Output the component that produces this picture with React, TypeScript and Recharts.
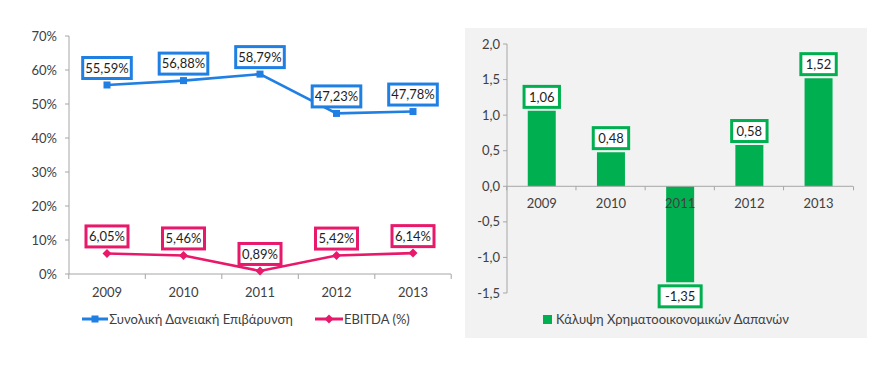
import React from 'react';
import { LineChart, Line, XAxis, YAxis, BarChart, Bar, LabelList, Legend, ReferenceLine } from 'recharts';

const years = ['2009', '2010', '2011', '2012', '2013'];
const debtBurden = [55.59, 56.88, 58.79, 47.23, 47.78];
const ebitdaMargin = [6.05, 5.46, 0.89, 5.42, 6.14];
const coverage = [1.06, 0.48, -1.35, 0.58, 1.52];
const pctTicks = [0, 10, 20, 30, 40, 50, 60, 70];
const coverageTicks = [-1.5, -1, -0.5, 0, 0.5, 1, 1.5, 2];
const debtName = 'Συνολική Δανειακή Επιβάρυνση';
const ebitdaName = 'EBITDA (%)';
const coverName = 'Κάλυψη Χρηματοοικονομικών Δαπανών';

const lineData = years.map((y, i) => ({ year: y, debt: debtBurden[i], ebitda: ebitdaMargin[i] }));
const barData = years.map((y, i) => ({ year: y, cover: coverage[i] }));

const BLUE = '#1f7fe3';
const PINK = '#e8196b';
const GREEN = '#00b050';
const AXIS = '#a6a6a6';
const TEXT = '#404040';
const LABEL = '#1e1e1e';
const FONT = 'Lato, "Open Sans", sans-serif';

const fmtComma = (v: number, d: number) => v.toFixed(d).replace('.', ',');

const boxW = (t: string) => t.length * 6.6 + 9;

const LineBoxLabel = (color: string) => (props: any) => {
  const { x, y, value } = props;
  if (x == null || y == null) return null;
  const text = fmtComma(Number(value), 2) + '%';
  const w = boxW(text);
  const h = 21;
  const cy = y - 17;
  return (
    <g>
      <rect x={x - w / 2} y={cy - h / 2} width={w} height={h} fill="#fff" stroke={color} strokeWidth={3} />
      <text x={x} y={cy} dy="0.36em" textAnchor="middle" fontSize={13} fill={LABEL} fontFamily={FONT}>{text}</text>
    </g>
  );
};

const BarBoxLabel = (props: any) => {
  const { x, y, width, height, value } = props;
  const v = Number(value);
  const top = Math.min(y, y + height);
  const bottom = Math.max(y, y + height);
  const cx = x + width / 2;
  const cy = v >= 0 ? top - 14 : bottom + 14;
  const text = fmtComma(v, 2);
  const w = boxW(text);
  const h = 21;
  return (
    <g>
      <rect x={cx - w / 2} y={cy - h / 2} width={w} height={h} fill="#fff" stroke={GREEN} strokeWidth={3} />
      <text x={cx} y={cy} dy="0.36em" textAnchor="middle" fontSize={13} fill={LABEL} fontFamily={FONT}>{text}</text>
    </g>
  );
};

const barGapFraction = 0.3;

const BarCategoryLabel = (props: any) => {
  const { x, y, width, height, value, index } = props;
  const v = coverage[index];
  const zero = v >= 0 ? Math.max(y, y + height) : Math.min(y, y + height);
  const cx = x + width / 2;
  const band = width / (1 - 2 * barGapFraction);
  const left = cx - band / 2;
  const right = cx + band / 2;
  return (
    <g>
      <line x1={left} y1={zero} x2={left} y2={zero + 4} stroke={AXIS} />
      {index === years.length - 1 && <line x1={right} y1={zero} x2={right} y2={zero + 4} stroke={AXIS} />}
      <text x={cx} y={zero + 17} dy="0.36em" textAnchor="middle" fontSize={13} fill={TEXT} fontFamily={FONT}>{value}</text>
    </g>
  );
};

const LineXTick = (props: any) => {
  const { x, y, payload, tickSize, tickMargin, index, visibleTicksCount, width } = props;
  const axisY = y - (tickSize ?? 5) - (tickMargin ?? 9);
  const count = visibleTicksCount || years.length;
  const half = payload && payload.offset != null && payload.offset > 0 ? payload.offset : width / (2 * count);
  return (
    <g>
      <line x1={x - half} y1={axisY} x2={x - half} y2={axisY + 5} stroke={AXIS} />
      {index === count - 1 && <line x1={x + half} y1={axisY} x2={x + half} y2={axisY + 5} stroke={AXIS} />}
      <text x={x} y={y} dy="0.71em" textAnchor="middle" fontSize={13} fill={TEXT} fontFamily={FONT}>{payload.value}</text>
    </g>
  );
};

const SquareDot = (props: any) => {
  const { cx, cy } = props;
  if (cx == null || cy == null) return null;
  return <rect x={cx - 3.5} y={cy - 3.5} width={7} height={7} fill={BLUE} />;
};

const DiamondDot = (props: any) => {
  const { cx, cy } = props;
  if (cx == null || cy == null) return null;
  return <path d={`M${cx},${cy - 4.5}L${cx + 4.5},${cy}L${cx},${cy + 4.5}L${cx - 4.5},${cy}Z`} fill={PINK} />;
};

const LineLegend = () => (
  <div style={{ display: 'flex', justifyContent: 'center', alignItems: 'center', fontSize: 13, color: TEXT, fontFamily: FONT, lineHeight: '16px' }}>
    <span style={{ display: 'flex', alignItems: 'center' }}>
      <svg width={26} height={10} style={{ marginRight: 1 }}>
        <line x1={0} y1={5} x2={26} y2={5} stroke={BLUE} strokeWidth={3} />
        <rect x={9.5} y={1.5} width={7} height={7} fill={BLUE} />
      </svg>
      {debtName}
    </span>
    <span style={{ display: 'flex', alignItems: 'center', marginLeft: 22 }}>
      <svg width={28} height={10} style={{ marginRight: 1 }}>
        <line x1={0} y1={5} x2={28} y2={5} stroke={PINK} strokeWidth={3} />
        <path d="M14,0.5L18.5,5L14,9.5L9.5,5Z" fill={PINK} />
      </svg>
      {ebitdaName}
    </span>
  </div>
);

const BarLegend = () => (
  <div style={{ display: 'flex', justifyContent: 'center', alignItems: 'center', fontSize: 13, color: TEXT, fontFamily: FONT, lineHeight: '16px' }}>
    <span style={{ display: 'inline-block', width: 9, height: 9, background: GREEN, marginRight: 4 }} />
    {coverName}
  </div>
);

export default function App() {
  return (
    <div style={{ position: 'absolute', left: 0, top: 0, width: 884, height: 365, background: '#fff', fontFamily: FONT }}>
      <div style={{ position: 'absolute', left: 0, top: 0 }}>
        <LineChart width={460} height={365} data={lineData} margin={{ top: 36, right: 9, left: 0, bottom: 55 }}>
          <XAxis
            dataKey="year"
            height={36}
            padding={{ left: 38, right: 38 }}
            axisLine={{ stroke: AXIS }}
            tickLine={{ stroke: 'transparent' }}
            tickSize={5}
            tickMargin={9}
            tick={<LineXTick />}
            interval={0}
          />
          <YAxis
            domain={[0, 70]}
            ticks={pctTicks}
            width={69}
            axisLine={{ stroke: AXIS }}
            tickLine={{ stroke: AXIS }}
            tickSize={4}
            tickMargin={8}
            tickFormatter={(v: number) => `${v}%`}
            tick={{ fontSize: 13, fill: TEXT, fontFamily: FONT }}
            interval={0}
          />
          <Legend
            verticalAlign="middle"
            align="center"
            layout="horizontal"
            content={<LineLegend />}
            wrapperStyle={{ top: 311, left: 16, width: 460, bottom: 'auto' }}
          />
          <Line
            dataKey="debt"
            name={debtName}
            stroke={BLUE}
            strokeWidth={2.6}
            dot={<SquareDot />}
            activeDot={false}
            isAnimationActive={false}
          >
            <LabelList dataKey="debt" content={LineBoxLabel(BLUE)} />
          </Line>
          <Line
            dataKey="ebitda"
            name={ebitdaName}
            stroke={PINK}
            strokeWidth={2.6}
            dot={<DiamondDot />}
            activeDot={false}
            isAnimationActive={false}
          >
            <LabelList dataKey="ebitda" content={LineBoxLabel(PINK)} />
          </Line>
        </LineChart>
      </div>
      <div style={{ position: 'absolute', left: 465, top: 28, width: 402, height: 310, background: '#f2f2f2' }}>
        <BarChart width={402} height={310} data={barData} margin={{ top: 16, right: 14, left: 0, bottom: 45 }} barCategoryGap="30%">
          <XAxis dataKey="year" hide />
          <YAxis
            domain={[-1.5, 2]}
            ticks={coverageTicks}
            width={42}
            axisLine={{ stroke: AXIS }}
            tickLine={{ stroke: AXIS }}
            tickSize={4}
            tickMargin={3}
            tickFormatter={(v: number) => fmtComma(v, 1)}
            tick={{ fontSize: 13, fill: TEXT, fontFamily: FONT }}
            interval={0}
          />
          <Legend
            verticalAlign="middle"
            align="center"
            layout="horizontal"
            content={<BarLegend />}
            wrapperStyle={{ top: 283, left: 0, width: 402, bottom: 'auto' }}
          />
          <ReferenceLine y={0} stroke={AXIS} />
          <Bar dataKey="cover" name={coverName} fill={GREEN} isAnimationActive={false}>
            <LabelList dataKey="cover" content={BarBoxLabel} />
            <LabelList dataKey="year" content={BarCategoryLabel} />
          </Bar>
        </BarChart>
      </div>
    </div>
  );
}
